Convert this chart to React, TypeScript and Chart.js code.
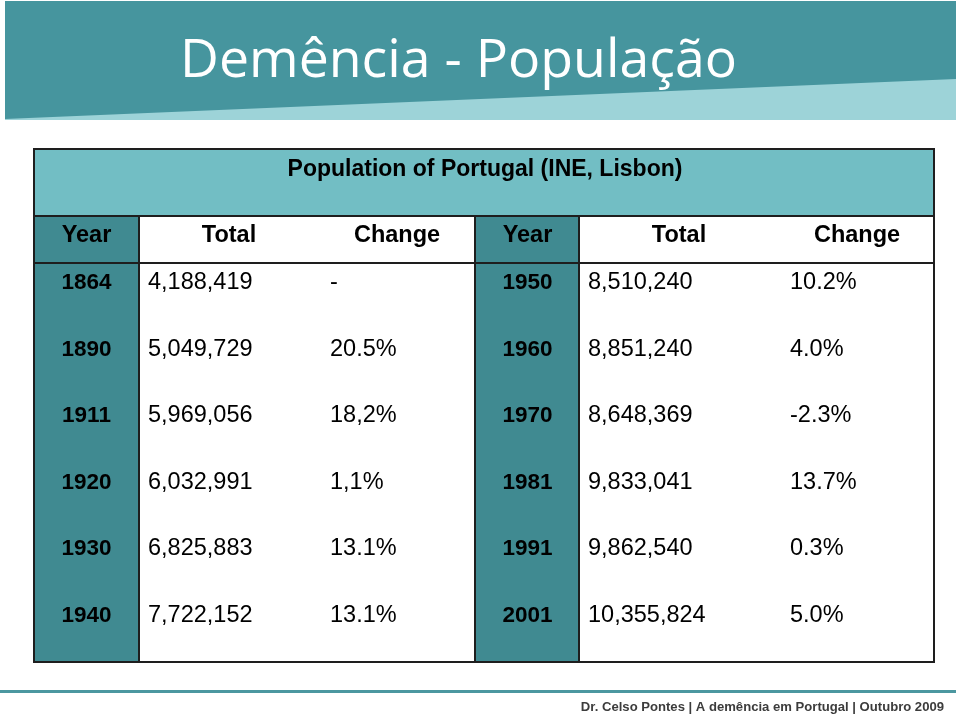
import { useEffect, useRef } from 'react';
import { Chart, registerables } from 'chart.js';

Chart.register(...registerables);

// ---- content ----
const slideTitle = 'Demência - População';
const tableTitle = 'Population of Portugal (INE, Lisbon)';
const headers = ['Year', 'Total', 'Change'];
const footerText = 'Dr. Celso Pontes | A demência em Portugal | Outubro 2009';

const leftYears = ['1864', '1890', '1911', '1920', '1930', '1940'];
const leftTotals = ['4,188,419', '5,049,729', '5,969,056', '6,032,991', '6,825,883', '7,722,152'];
const leftChanges = ['-', '20.5%', '18,2%', '1,1%', '13.1%', '13.1%'];

const rightYears = ['1950', '1960', '1970', '1981', '1991', '2001'];
const rightTotals = ['8,510,240', '8,851,240', '8,648,369', '9,833,041', '9,862,540', '10,355,824'];
const rightChanges = ['10.2%', '4.0%', '-2.3%', '13.7%', '0.3%', '5.0%'];

// ---- style ----
const C = {
  bannerDark: '#46959e',
  bannerLight: '#9dd3d8',
  titleRow: '#72bec4',
  yearCol: '#408a91',
  border: '#1e1e1e',
  text: '#000000',
  footer: '#3c3c3c',
  footerLine: '#4b97a0',
};
const SANS = '"Liberation Sans", Arial, sans-serif';

function textAt(ctx: CanvasRenderingContext2D, s: string, x: number, cy: number, size: number, bold: boolean, align: CanvasTextAlign, color = C.text, family = SANS) {
  ctx.font = `${bold ? 'bold ' : ''}${size}px ${family}`;
  ctx.fillStyle = color;
  ctx.textAlign = align;
  ctx.textBaseline = 'alphabetic';
  ctx.fillText(s, x, cy + size * 0.358);
}

const slidePlugin = {
  id: 'slideTable',
  beforeDraw(chart: any) {
    const ctx: CanvasRenderingContext2D = chart.ctx;
    const a = chart.chartArea;
    const W = chart.width;
    ctx.save();
    ctx.fillStyle = '#ffffff';
    ctx.fillRect(0, 0, W, chart.height);

    // banner
    ctx.fillStyle = C.bannerLight;
    ctx.fillRect(5, 70, 951, 50);
    ctx.fillStyle = C.bannerDark;
    ctx.beginPath();
    ctx.moveTo(5, 1);
    ctx.lineTo(956, 1);
    ctx.lineTo(956, 79);
    ctx.lineTo(5, 119);
    ctx.closePath();
    ctx.fill();

    // slide title (fit to width)
    const fam = '"Open Sans", "DejaVu Sans", sans-serif';
    ctx.font = `46px ${fam}`;
    const w = ctx.measureText(slideTitle).width;
    const size = 46 * 557 / w;
    ctx.font = `${size}px ${fam}`;
    ctx.fillStyle = '#ffffff';
    ctx.textAlign = 'left';
    ctx.textBaseline = 'alphabetic';
    ctx.fillText(slideTitle, 180, 77);

    // table backgrounds
    const headerTop = a.top - 47;
    const titleTop = headerTop - 67;
    ctx.fillStyle = C.titleRow;
    ctx.fillRect(a.left, titleTop, a.right - a.left, headerTop - titleTop);
    const yearW = 105;
    const block2 = a.left + 441;
    ctx.fillStyle = C.yearCol;
    ctx.fillRect(a.left, headerTop, yearW, a.bottom - headerTop);
    ctx.fillRect(block2, headerTop, yearW - 1, a.bottom - headerTop);

    // footer
    ctx.fillStyle = C.footerLine;
    ctx.fillRect(0, 690, 956, 3);
    ctx.restore();
  },
  afterDraw(chart: any) {
    const ctx: CanvasRenderingContext2D = chart.ctx;
    const a = chart.chartArea;
    const y = chart.scales.y;
    const rowH = y.getPixelForValue(1) - y.getPixelForValue(0);
    const headerTop = a.top - 47;
    const titleTop = headerTop - 67;
    const yearW = 105;
    const block2 = a.left + 441;
    ctx.save();

    // borders
    ctx.strokeStyle = C.border;
    ctx.lineWidth = 2;
    ctx.strokeRect(a.left, titleTop, a.right - a.left, a.bottom - titleTop);
    ctx.beginPath();
    ctx.moveTo(a.left, headerTop); ctx.lineTo(a.right, headerTop);
    ctx.moveTo(a.left, a.top); ctx.lineTo(a.right, a.top);
    for (const x of [a.left + yearW, block2, block2 + yearW - 1]) {
      ctx.moveTo(x, headerTop); ctx.lineTo(x, a.bottom);
    }
    ctx.stroke();

    // table title
    textAt(ctx, tableTitle, (a.left + a.right) / 2 + 1, titleTop + 19, 23, true, 'center');

    // header row
    const hy = headerTop + 18;
    const blocks = [a.left, block2];
    const totalCx = [229 - 34, 679 - 34];
    const changeCx = [397 - 34, 857 - 34];
    blocks.forEach((bx, k) => {
      textAt(ctx, headers[0], bx + yearW / 2, hy, 23.5, true, 'center');
      textAt(ctx, headers[1], a.left + totalCx[k], hy, 23.5, true, 'center');
      textAt(ctx, headers[2], a.left + changeCx[k], hy, 23.5, true, 'center');
    });

    // data rows
    const cols = [
      { years: leftYears, totals: leftTotals, changes: leftChanges, bx: a.left, tx: 148, cx: 330 },
      { years: rightYears, totals: rightTotals, changes: rightChanges, bx: block2, tx: 588, cx: 790 },
    ];
    cols.forEach((col) => {
      col.years.forEach((yr, i) => {
        const cy = y.getPixelForValue(i) - rowH * 0.23;
        textAt(ctx, yr, col.bx + yearW / 2, cy, 22.5, true, 'center');
        textAt(ctx, col.totals[i], col.tx, cy, 23.5, false, 'left');
        textAt(ctx, col.changes[i], col.cx, cy, 23.5, false, 'left');
      });
    });

    // footer text
    textAt(ctx, footerText, 944, 706, 13.1, true, 'right', C.footer);
    ctx.restore();
  },
};

export default function App() {
  const ref = useRef<HTMLCanvasElement>(null);
  useEffect(() => {
    document.body.style.margin = '0';
    const chart = new Chart(ref.current as HTMLCanvasElement, {
      type: 'bar',
      data: {
        labels: leftYears,
        datasets: [{ data: leftYears.map(() => null), backgroundColor: 'transparent' }],
      },
      options: {
        animation: false,
        responsive: false,
        indexAxis: 'y',
        layout: { padding: { left: 34, right: 26, top: 263, bottom: 54 } },
        plugins: { legend: { display: false }, title: { display: false }, tooltip: { enabled: false } },
        scales: {
          x: { display: false, min: 0, max: 1 },
          y: { display: false },
        },
      },
      plugins: [slidePlugin],
    } as any);
    return () => chart.destroy();
  }, []);
  return (
    <div style={{ width: 960, height: 716 }}>
      <canvas ref={ref} width={960} height={716} style={{ display: 'block' }} />
    </div>
  );
}
